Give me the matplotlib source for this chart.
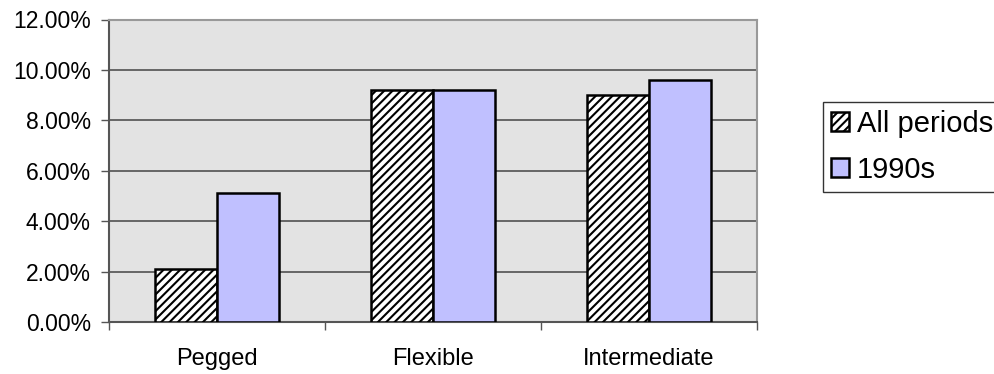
import numpy as np
import matplotlib
matplotlib.use("Agg")
import matplotlib.pyplot as plt
from matplotlib.ticker import FuncFormatter, FixedLocator

# data
categories = ["Pegged", "Flexible", "Intermediate"]
all_periods = [2.1, 9.2, 9.0]
nineties = [5.1, 9.2, 9.6]
series_names = ["All periods", "1990s"]

plt.rcParams.update({
    "font.family": ["Liberation Sans", "DejaVu Sans"],
    "hatch.linewidth": 1.5,
    "hatch.color": "black",
})

fig = plt.figure(figsize=(9.95, 3.74), dpi=100)
ax = fig.add_axes([109 / 995, 1 - 322 / 374, 648 / 995, 302.5 / 374])
ax.set_facecolor("#e3e3e3")

x = np.arange(len(categories))
w = 0.287

ax.bar(x - w / 2, all_periods, w, facecolor="white", edgecolor="black",
       hatch="////", linewidth=1.8, zorder=3, label=series_names[0])
ax.bar(x + w / 2, nineties, w, facecolor="#c0c0ff", edgecolor="black",
       linewidth=1.8, zorder=3, label=series_names[1])

ax.set_xlim(-0.5, len(categories) - 0.5)
ax.set_ylim(0, 12)
ax.set_yticks(np.arange(0, 12.1, 2))
ax.yaxis.set_major_formatter(FuncFormatter(lambda v, p: f"{v:.2f}%"))
ax.grid(axis="y", color="#444444", linewidth=1.1, zorder=1)

# category ticks between groups, labels centred
ax.set_xticks(x)
ax.set_xticklabels(categories)
ax.xaxis.set_minor_locator(FixedLocator(np.arange(-0.5, len(categories), 1)))
ax.tick_params(axis="x", which="major", length=0, pad=19, labelsize=17)
ax.tick_params(axis="x", which="minor", length=6, width=1, color="#555555", direction="out")
ax.tick_params(axis="y", length=6, width=1, color="#555555", labelsize=16.5, pad=7)

for side in ["top", "right"]:
    ax.spines[side].set_color("#999999")
    ax.spines[side].set_linewidth(1.5)
for side in ["left", "bottom"]:
    ax.spines[side].set_color("#555555")
    ax.spines[side].set_linewidth(1.5)

leg = fig.legend(loc="upper left", bbox_to_anchor=(823 / 995, 1 - 102 / 374),
                 fontsize=21, frameon=True, fancybox=False, edgecolor="black",
                 handlelength=0.62, handleheight=0.62, handletextpad=0.25,
                 borderpad=0.28, labelspacing=0.6, borderaxespad=0)
leg.get_frame().set_linewidth(1.0)

fig.savefig("out.png", dpi=100)
